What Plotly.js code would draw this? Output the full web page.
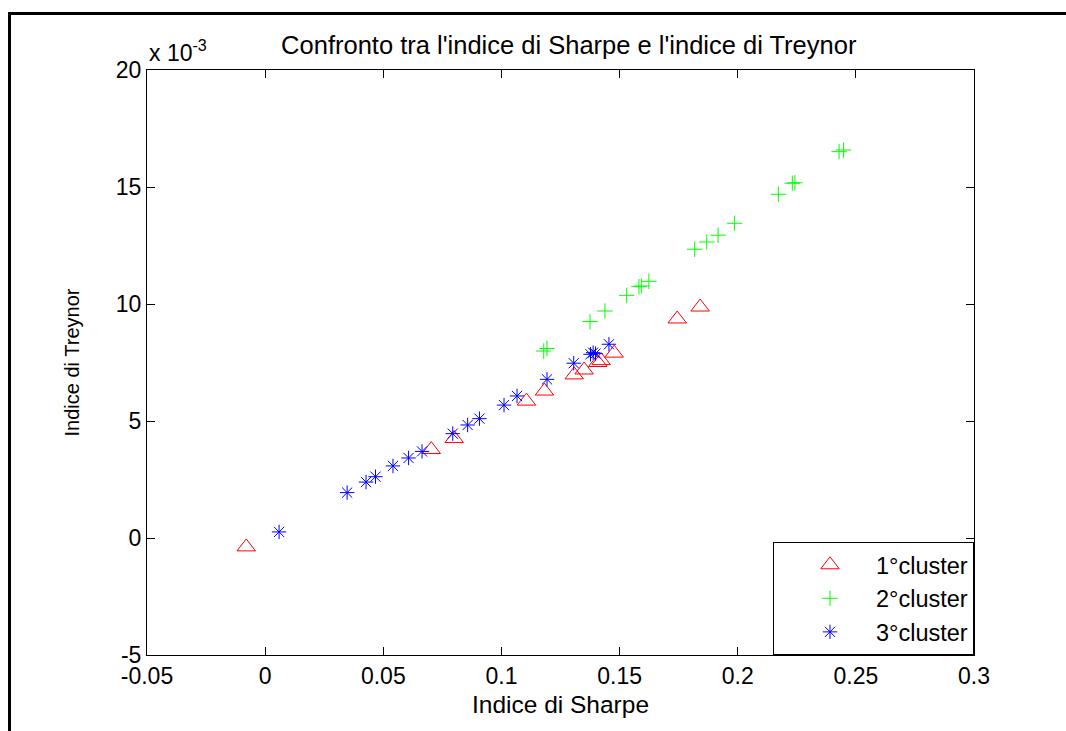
<!DOCTYPE html>
<html>
<head>
<meta charset="utf-8">
<script src="https://cdn.plot.ly/plotly-3.0.1.min.js"></script>
<style>
  html, body { margin: 0; padding: 0; background: #fff; overflow: hidden; }
  #chart { width: 1066px; height: 731px; position: relative; }
  #frame { position: absolute; left: 8px; top: 12px; width: 2000px; height: 2000px;
           border-top: 3px solid #000; border-left: 3px solid #000; pointer-events: none; z-index: 5; }
</style>
</head>
<body>
<div id="chart"></div>
<div id="frame"></div>
<script>
// Indice di Sharpe (x) and Indice di Treynor (y, in units of 10^-3)
const cluster1_sharpe  = [-0.008, 0.0703, 0.080, 0.1106, 0.1182, 0.1308, 0.135, 0.1408, 0.1422, 0.1477, 0.1744, 0.1841];
const cluster1_treynor = [-0.38, 3.78, 4.25, 5.85, 6.28, 6.97, 7.18, 7.50, 7.58, 7.90, 9.36, 9.87];

const cluster2_sharpe  = [0.1179, 0.1193, 0.1375, 0.1438, 0.1530, 0.1582, 0.1592, 0.1624, 0.1818, 0.1869, 0.1917, 0.1987, 0.2172, 0.2231, 0.2242, 0.2429, 0.2448];
const cluster2_treynor = [7.99, 8.10, 9.25, 9.70, 10.37, 10.74, 10.77, 10.97, 12.34, 12.65, 12.94, 13.45, 14.69, 15.16, 15.18, 16.51, 16.58];

const cluster3_sharpe  = [0.0059, 0.0347, 0.0427, 0.0467, 0.0541, 0.0607, 0.0664, 0.0794, 0.0857, 0.0907, 0.1011, 0.1066, 0.1193, 0.1306, 0.1377, 0.1388, 0.1398, 0.1455];
const cluster3_treynor = [0.26, 1.94, 2.39, 2.62, 3.08, 3.42, 3.70, 4.46, 4.83, 5.10, 5.68, 6.07, 6.78, 7.47, 7.85, 7.92, 7.88, 8.28];

const seriesNames = ["1°cluster", "2°cluster", "3°cluster"];
const xTicks = [-0.05, 0, 0.05, 0.1, 0.15, 0.2, 0.25, 0.3];
const xTickText = ["-0.05", "0", "0.05", "0.1", "0.15", "0.2", "0.25", "0.3"];
const yTicks = [-5, 0, 5, 10, 15, 20];
const yTickText = ["-5", "0", "5", "10", "15", "20"];

const FONT = "Liberation Sans, Arial, sans-serif";

const traces = [
  { x: cluster1_sharpe, y: cluster1_treynor, name: seriesNames[0], type: "scatter", mode: "markers",
    marker: { symbol: "triangle-up-open", size: 16, color: "#ff0000", line: { width: 1, color: "#ff0000" } } },
  { x: cluster2_sharpe, y: cluster2_treynor, name: seriesNames[1], type: "scatter", mode: "markers",
    marker: { symbol: "cross-thin-open", size: 11, color: "#00ff00", line: { width: 1, color: "#00ff00" } } },
  { x: cluster3_sharpe, y: cluster3_treynor, name: seriesNames[2], type: "scatter", mode: "markers",
    marker: { symbol: "asterisk-open", size: 12, color: "#0000ff", line: { width: 1, color: "#0000ff" } } }
];

const axisCommon = {
  showgrid: false, zeroline: false, showline: true, linecolor: "#000", linewidth: 1,
  mirror: "ticks", ticks: "inside", ticklen: 8, tickwidth: 1, tickcolor: "#000",
  tickfont: { family: FONT, size: 23, color: "#000" }
};

const layout = {
  width: 1066, height: 731,
  margin: { l: 147, r: 92, t: 70, b: 76 },
  paper_bgcolor: "#fff", plot_bgcolor: "#fff",
  font: { family: FONT, color: "#000" },
  title: { text: "Confronto tra l'indice di Sharpe e l'indice di Treynor",
           font: { family: FONT, size: 25.5, color: "#000" },
           x: 0.51, xref: "paper", y: 1, yref: "paper", yanchor: "bottom", pad: { b: 16 } },
  xaxis: Object.assign({}, axisCommon, {
    range: [-0.05, 0.3], tickvals: xTicks, ticktext: xTickText,
    title: { text: "Indice di Sharpe", font: { family: FONT, size: 24.5, color: "#000" }, standoff: 8 }
  }),
  yaxis: Object.assign({}, axisCommon, {
    range: [-5, 20], tickvals: yTicks, ticktext: yTickText,
    title: { text: "Indice di Treynor", font: { family: FONT, size: 20, color: "#000" }, standoff: 30 }
  }),
  showlegend: true,
  legend: {
    x: 1, y: 0, xanchor: "right", yanchor: "bottom",
    bgcolor: "#fff", bordercolor: "#000", borderwidth: 1,
    font: { family: FONT, size: 23.5, color: "#000" },
    indentation: 10, itemwidth: 82, tracegroupgap: 0
  },
  annotations: [
    { xref: "paper", yref: "paper", x: 0, y: 1, xanchor: "left", yanchor: "bottom", yshift: 2,
      text: "x 10<sup>-3</sup>", showarrow: false, font: { family: FONT, size: 23, color: "#000" } }
  ]
};

Plotly.newPlot("chart", traces, layout, { displayModeBar: false, staticPlot: true });
</script>
</body>
</html>
